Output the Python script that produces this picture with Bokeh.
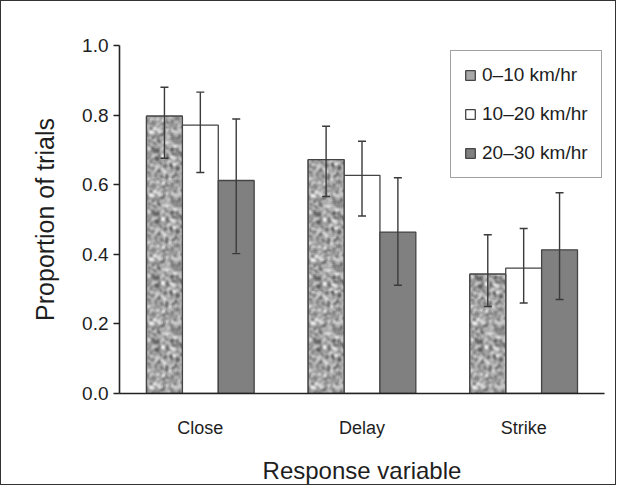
import numpy as np
from bokeh.plotting import figure
from bokeh.models import (ColumnDataSource, FactorRange, FixedTicker, Whisker, TeeHead,
                          PrintfTickFormatter)
from bokeh.transform import dodge
from bokeh.embed import file_html
from bokeh.resources import INLINE

# ---- data ----
categories = ["Close", "Delay", "Strike"]
speeds = ["0\u201310 km/hr", "10\u201320 km/hr", "20\u201330 km/hr"]

s1_mean = [0.797, 0.672, 0.343]
s1_lo = [0.676, 0.566, 0.250]
s1_hi = [0.880, 0.768, 0.456]

s2_mean = [0.771, 0.627, 0.360]
s2_lo = [0.635, 0.510, 0.260]
s2_hi = [0.866, 0.725, 0.474]

s3_mean = [0.612, 0.464, 0.413]
s3_lo = [0.402, 0.311, 0.270]
s3_hi = [0.789, 0.620, 0.577]

y_ticks = [0.0, 0.2, 0.4, 0.6, 0.8, 1.0]

# ---- speckled fill texture (decoration only, not data) ----
TEX = 64
def speckle_tile(n=TEX):
    i, j = np.meshgrid(np.arange(n, dtype=np.uint64), np.arange(n, dtype=np.uint64), indexing="ij")
    m = np.uint64(0xFFFFFFFF)
    h = ((i * np.uint64(73856093)) ^ (j * np.uint64(19349663))) & m
    h = ((h ^ (h >> np.uint64(13))) * np.uint64(1274126177)) & m
    h = (h ^ (h >> np.uint64(16))) & m
    v = (h % np.uint64(1000)).astype(float) / 1000.0
    for _ in range(2):
        v = sum(np.roll(np.roll(v, a, 0), b, 1) for a in (-1, 0, 1) for b in (-1, 0, 1)) / 9.0
    v = (v - v.min()) / (v.max() - v.min())
    return (90 + v * 150).astype(np.uint32)

tile = speckle_tile()
PX_PER_UNIT = 349  # texture rows per unit of bar height (keeps speckle size uniform)
def speckle_image(h, cols=36):
    rows = max(2, int(round(h * PX_PER_UNIT)))
    reps = (rows // TEX + 1, cols // TEX + 1)
    g = np.tile(tile, reps)[:rows, :cols]
    return (np.uint32(255) << 24) | (g << 16) | (g << 8) | g

src = ColumnDataSource(dict(cat=categories,
                            m1=s1_mean, l1=s1_lo, h1=s1_hi,
                            m2=s2_mean, l2=s2_lo, h2=s2_hi,
                            m3=s3_mean, l3=s3_lo, h3=s3_hi,
                            tex=[speckle_image(h) for h in s1_mean]))

FONT = "Liberation Sans"
W = 0.222

p = figure(x_range=FactorRange(factors=categories), y_range=(0, 1.0),
           width=616, height=485, output_backend="svg", toolbar_location=None,
           min_border_left=118, min_border_right=13, min_border_top=44, min_border_bottom=92)
p.styles = {"border": "1.5px solid #333", "box-sizing": "border-box"}
p.outline_line_color = None
p.xgrid.grid_line_color = None
p.ygrid.grid_line_color = None

offs = [-W, 0.0, W]
fills = ["#a8a8a8", "white", "#808080"]
for k in range(3):
    p.vbar(x=dodge("cat", offs[k], range=p.x_range), top="m%d" % (k + 1), width=W, bottom=0,
           source=src, line_color="#444444", line_width=1.3, fill_color=fills[k],
           legend_label=speeds[k])

# speckle texture inside the first series' bars, then its outline again on top
p.image_rgba(image="tex", x=dodge("cat", -1.5 * W, range=p.x_range), y=0, dw=W, dh="m1",
             source=src)
p.vbar(x=dodge("cat", -W, range=p.x_range), top="m1", width=W, bottom=0, source=src,
       line_color="#444444", line_width=1.3, fill_color=None)

for k in range(3):
    wk = Whisker(base=dodge("cat", offs[k], range=p.x_range), upper="h%d" % (k + 1),
                 lower="l%d" % (k + 1), source=src, line_color="#3a3a3a", line_width=1.4,
                 upper_head=TeeHead(size=8, line_color="#3a3a3a", line_width=1.4),
                 lower_head=TeeHead(size=8, line_color="#3a3a3a", line_width=1.4),
                 level="annotation")
    p.add_layout(wk)

# axes
p.yaxis.ticker = FixedTicker(ticks=y_ticks)
p.yaxis.formatter = PrintfTickFormatter(format="%.1f")
p.yaxis.minor_tick_line_color = None
p.yaxis.major_tick_in = 0
p.yaxis.major_tick_out = 6
p.yaxis.major_label_standoff = 5
p.yaxis.axis_label = "Proportion of trials"
p.yaxis.axis_label_standoff = 20

p.xaxis.major_tick_line_color = None
p.xaxis.major_tick_out = 0
p.xaxis.major_tick_in = 0
p.xaxis.major_label_standoff = 24
p.xaxis.axis_label = "Response variable"
p.xaxis.axis_label_standoff = 16

for ax in (p.xaxis[0], p.yaxis[0]):
    ax.axis_line_color = "#222222"
    ax.axis_line_width = 1.6
    ax.major_label_text_font = FONT
    ax.major_label_text_color = "#1e1e1e"
    ax.axis_label_text_font = FONT
    ax.axis_label_text_font_style = "normal"
    ax.axis_label_text_color = "#1e1e1e"
p.yaxis.major_tick_line_color = "#222222"
p.yaxis.major_tick_line_width = 1.4

p.yaxis.major_label_text_font_size = "19px"
p.xaxis.major_label_text_font_size = "18px"
p.yaxis.axis_label_text_font_size = "25px"
p.xaxis.axis_label_text_font_size = "24px"

# legend
lg = p.legend[0]
lg.location = (331, 215)
lg.label_text_font = FONT
lg.label_text_font_size = "19px"
lg.label_text_color = "#1e1e1e"
lg.glyph_width = 12
lg.glyph_height = 12
lg.label_height = 22
lg.label_standoff = 6
lg.spacing = 17
lg.padding = 13
lg.margin = 0
lg.border_line_color = "#444444"
lg.border_line_width = 1.5
lg.background_fill_alpha = 1.0

open("out.html", "w").write(file_html(p, INLINE))
